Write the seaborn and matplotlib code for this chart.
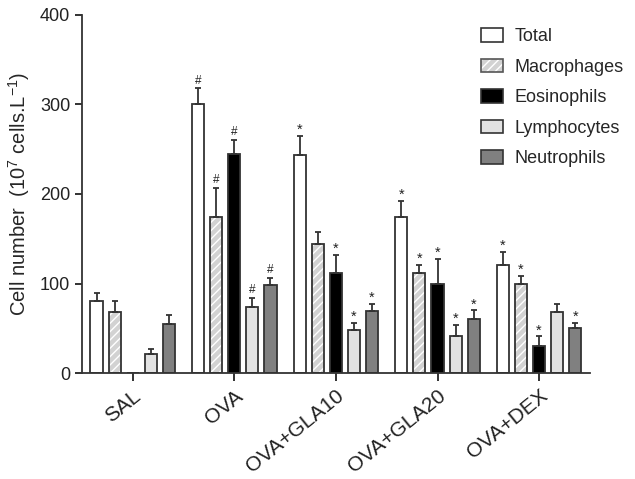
import numpy as np
import pandas as pd
import matplotlib
matplotlib.use("Agg")
import matplotlib.pyplot as plt
from matplotlib.patches import Rectangle, Patch
from matplotlib.legend_handler import HandlerTuple
import seaborn as sns

# -------------------------------
# DATA
# -------------------------------
groups = ["SAL", "OVA", "OVA+GLA10", "OVA+GLA20", "OVA+DEX"]
cells = ["Total", "Macrophages", "Eosinophils", "Lymphocytes", "Neutrophils"]

total = [80, 300, 244, 174, 121]
macrophages = [68, 174, 144, 112, 100]
eosinophils = [0, 245, 112, 99, 30]
lymphocytes = [21, 74, 48, 41, 68]
neutrophils = [55, 98, 69, 61, 50]

total_err = [9, 18, 21, 18, 14]
macrophages_err = [13, 33, 14, 9, 9]
eosinophils_err = [0, 15, 20, 28, 11]
lymphocytes_err = [6, 10, 8, 13, 9]
neutrophils_err = [10, 8, 8, 9, 6]

total_sig = ["", "#", "*", "*", "*"]
macrophages_sig = ["", "#", "", "*", "*"]
eosinophils_sig = ["", "#", "*", "*", "*"]
lymphocytes_sig = ["", "#", "*", "*", ""]
neutrophils_sig = ["", "#", "*", "*", "*"]

values = [total, macrophages, eosinophils, lymphocytes, neutrophils]
errors = [total_err, macrophages_err, eosinophils_err, lymphocytes_err, neutrophils_err]
signs = [total_sig, macrophages_sig, eosinophils_sig, lymphocytes_sig, neutrophils_sig]

colors = ["white", "#d2d2d2", "black", "#e2e2e2", "#808080"]
edge = "#333333"

rows = []
for c, vals in zip(cells, values):
    for g, v in zip(groups, vals):
        rows.append({"group": g, "cell": c, "value": v})
df = pd.DataFrame(rows)

# -------------------------------
# PLOT
# -------------------------------
sns.set_style("ticks")
plt.rcParams["font.family"] = ["Liberation Sans", "DejaVu Sans"]
plt.rcParams["mathtext.fontset"] = "custom"
plt.rcParams["mathtext.rm"] = "Liberation Sans"
plt.rcParams["mathtext.it"] = "Liberation Sans:italic"

fig = plt.figure(figsize=(6.35, 4.79), dpi=100)
ax = fig.add_axes([0.129, 0.221, 0.800, 0.748])

sns.barplot(data=df, x="group", y="value", hue="cell", order=groups,
            hue_order=cells, palette=colors, width=0.89, gap=0.33,
            errorbar=None, edgecolor=edge, linewidth=1.3, legend=False, ax=ax)

# bars are in hue order, each hue has len(groups) patches
patches = [p for p in ax.patches if isinstance(p, Rectangle)]
for i, c in enumerate(cells):
    for j, g in enumerate(groups):
        p = patches[i * len(groups) + j]
        x = p.get_x() + p.get_width() / 2
        h = p.get_height()
        if c == "Macrophages":
            p.set_hatch("////")
            p.set_edgecolor("white")
            p.set_linewidth(0)
            ax.add_patch(Rectangle((p.get_x(), 0), p.get_width(), h,
                                   fill=False, edgecolor=edge, linewidth=1.3,
                                   zorder=p.get_zorder() + 0.1))
        e = errors[i][j]
        if e > 0:
            ax.errorbar(x, h, yerr=[[0], [e]], fmt="none", ecolor=edge,
                        elinewidth=1.3, capsize=2.5, capthick=1.3, zorder=1)
        s = signs[i][j]
        if s:
            ax.text(x, h + e + (2 if s == "#" else -1), s, ha="center", va="bottom",
                    fontsize=8.5 if s == "#" else 10.5, color="#222222")

ax.set_xlim(-0.5, 4.5)
ax.set_ylim(0, 400)
ax.set_yticks([0, 100, 200, 300, 400])
ax.set_xlabel("")
ax.set_ylabel("Cell number  (10$^{7}$ cells.L$^{-1}$)", fontsize=14.5, labelpad=6)
ax.tick_params(axis="y", labelsize=13, length=5, width=1.3, colors="#222222")
ax.tick_params(axis="x", labelsize=15, length=6, width=1.3, colors="#222222")
plt.setp(ax.get_xticklabels(), rotation=39, ha="right", va="top",
         rotation_mode="anchor")
for sp in ["left", "bottom"]:
    ax.spines[sp].set_linewidth(1.3)
    ax.spines[sp].set_color("#333333")
sns.despine(ax=ax)

handles = []
for c, col in zip(cells, colors):
    if c == "Macrophages":
        handles.append((Patch(facecolor=col, edgecolor="white", hatch="////", linewidth=0),
                        Patch(fill=False, edgecolor="#555555", linewidth=1.2)))
    else:
        handles.append(Patch(facecolor=col, edgecolor="#333333", linewidth=1.2))
fig.legend(handles=handles, labels=cells, loc="upper left",
           bbox_to_anchor=(0.732, 0.975), frameon=False, fontsize=13,
           handlelength=1.2, handleheight=0.75, handletextpad=0.65,
           labelspacing=0.75, handler_map={tuple: HandlerTuple(ndivide=1)})

fig.savefig("out.png", dpi=100)
